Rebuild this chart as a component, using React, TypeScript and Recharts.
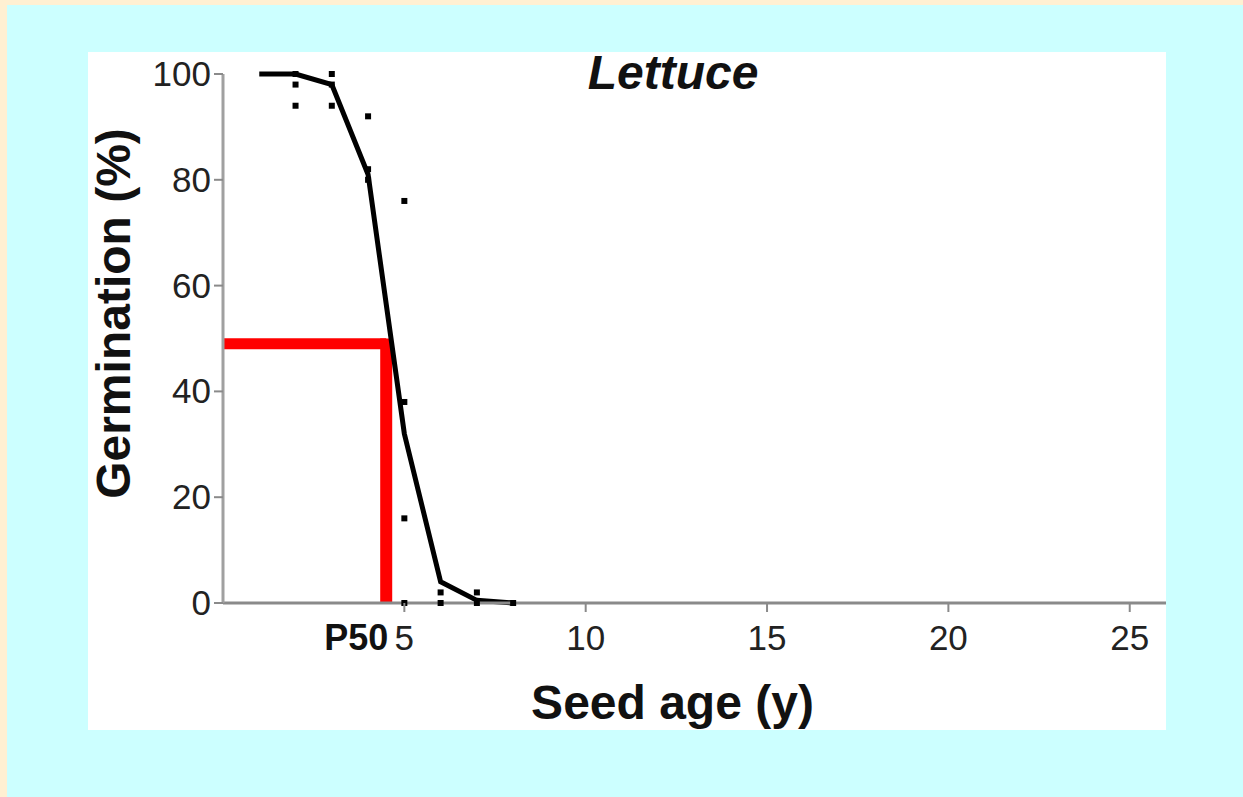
import React from "react";
import {
  ComposedChart, Line, Scatter, XAxis, YAxis, ReferenceLine,
} from "recharts";

// mean germination curve
const CURVE_AGE = [1, 2, 3, 4, 5, 6, 7, 8];
const CURVE_GERM = [100, 100, 98, 81, 32, 4, 0.5, 0];

// individual observations
const OBS_AGE = [2, 2, 2, 3, 3, 3, 4, 4, 4, 5, 5, 5, 5, 6, 6, 7, 7, 8];
const OBS_GERM = [100, 98, 94, 100, 98, 94, 92, 82, 80, 76, 38, 16, 0, 2, 0, 2, 0, 0];

const X_TICKS = [5, 10, 15, 20, 25];
const Y_TICKS = [0, 20, 40, 60, 80, 100];
const P50_AGE = 4.5;
const P50_GERM = 49;

const FONT = "'Liberation Sans', Arial, sans-serif";

const curve = CURVE_AGE.map((age, i) => ({ age, germ: CURVE_GERM[i] }));
const obs = OBS_AGE.map((age, i) => ({ age, germ: OBS_GERM[i] }));

const XTick = (props: any) => {
  const { x, y, payload } = props;
  if (payload.value === P50_AGE) {
    return (
      <text x={x + 2} y={y + 47} textAnchor="end" fontSize={36} fontWeight={700}
        fontFamily={FONT} fill="#111">P50</text>
    );
  }
  return (
    <g>
      <line x1={x} y1={y} x2={x} y2={y + 9} stroke="#8a8a8a" strokeWidth={2} />
      <text x={x} y={y + 47} textAnchor="middle" fontSize={35} fontFamily={FONT} fill="#222">
        {payload.value}
      </text>
    </g>
  );
};

const YTick = (props: any) => {
  const { x, y, payload } = props;
  return (
    <g>
      <line x1={x - 9} y1={y} x2={x} y2={y} stroke="#8a8a8a" strokeWidth={2} />
      <text x={x - 12} y={y + 12} textAnchor="end" fontSize={35} fontFamily={FONT} fill="#222">
        {payload.value}
      </text>
    </g>
  );
};

const Dot = (props: any) => {
  const { cx, cy } = props;
  return <rect x={cx - 3} y={cy - 3} width={6} height={6} fill="#000" />;
};

export default function App() {
  return (
    <div style={{ position: "absolute", left: 0, top: 0, width: 1243, height: 797, background: "#FFF0D2" }}>
      <div style={{ position: "absolute", left: 7, top: 5, right: 0, bottom: 0, background: "#CCFFFF" }} />
      <div style={{ position: "absolute", left: 88, top: 52, width: 1078, height: 678, background: "#fff" }}>
        <ComposedChart
          width={1078}
          height={678}
          data={curve}
          margin={{ top: 22, right: 0, left: 0, bottom: 0 }}
        >
          <XAxis
            type="number"
            dataKey="age"
            domain={[0, 26]}
            ticks={[P50_AGE, ...X_TICKS]}
            interval={0}
            height={127}
            tickSize={0}
            tickMargin={0}
            tickLine={false}
            axisLine={{ stroke: "#8a8a8a", strokeWidth: 3 }}
            tick={<XTick />}
            label={{
              content: (p: any) => {
                const vb = p.viewBox;
                return (
                  <text x={vb.x + vb.width / 2 - 22} y={vb.y + 116} textAnchor="middle"
                    fontSize={48} fontWeight={700} fontFamily={FONT} fill="#111">
                    Seed age (y)
                  </text>
                );
              },
            }}
          />
          <YAxis
            type="number"
            domain={[0, 100]}
            ticks={Y_TICKS}
            interval={0}
            width={135}
            tickSize={0}
            tickMargin={0}
            tickLine={false}
            axisLine={{ stroke: "#a0a0a0", strokeWidth: 3 }}
            tick={<YTick />}
            label={{
              content: (p: any) => {
                const vb = p.viewBox;
                const cx = 25;
                const cy = vb.y + vb.height / 2 - 25;
                return (
                  <text x={cx} y={cy} transform={`rotate(-90 ${cx} ${cy})`} textAnchor="middle"
                    dominantBaseline="central" fontSize={48} fontWeight={700} fontFamily={FONT} fill="#111">
                    Germination (%)
                  </text>
                );
              },
            }}
          />
          <ReferenceLine
            segment={[{ x: 0, y: P50_GERM }, { x: P50_AGE, y: P50_GERM }]}
            stroke="#FF0000"
            strokeWidth={11}
          />
          <ReferenceLine
            segment={[{ x: P50_AGE, y: 0 }, { x: P50_AGE, y: P50_GERM + 1 }]}
            stroke="#FF0000"
            strokeWidth={12}
          />
          <Line
            type="linear"
            dataKey="germ"
            stroke="#000"
            strokeWidth={5}
            dot={false}
            activeDot={false}
            isAnimationActive={false}
          />
          <Scatter data={obs} dataKey="germ" shape={<Dot />} isAnimationActive={false} />
        </ComposedChart>
      </div>
      <div style={{
        position: "absolute", left: 473, top: 49, width: 400, textAlign: "center",
        fontFamily: FONT, fontSize: 48, lineHeight: "48px", fontWeight: 700, fontStyle: "italic", color: "#111",
      }}>
        Lettuce
      </div>
    </div>
  );
}
